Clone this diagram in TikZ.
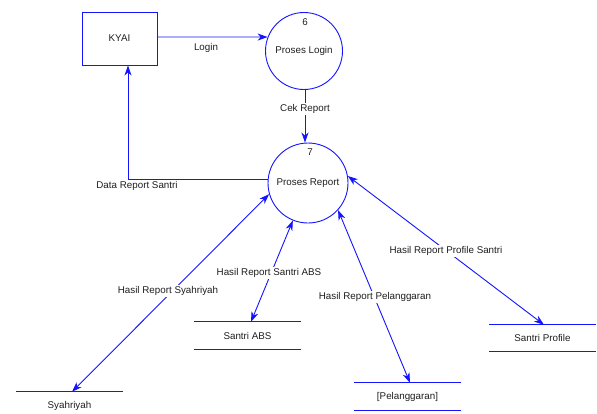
\documentclass[tikz,border=0pt]{standalone}
\usepackage{fontspec}
\setmainfont{Liberation Sans}
\usetikzlibrary{arrows.meta}
\definecolor{dfdblue}{RGB}{20,20,255}
\definecolor{dfdtext}{RGB}{30,30,30}
\tikzset{
  flow/.style={draw=dfdblue, line width=0.9pt},
  tip/.style={-{Stealth[length=10pt,width=7pt,inset=3pt]}},
  bitip/.style={{Stealth[length=10pt,width=7pt,inset=3pt]}-{Stealth[length=10pt,width=7pt,inset=3pt]}},
  txt/.style={text=dfdtext, font=\fontsize{9.8}{11}\selectfont, inner sep=1pt},
  lbl/.style={txt, fill=white},
  entity/.style={draw=dfdblue, line width=0.9pt, minimum width=75pt, minimum height=53pt, inner sep=0pt, txt},
  proc/.style={draw=dfdblue, line width=0.9pt, circle, inner sep=0pt, txt},
  store/.style={txt, minimum width=106pt, inner sep=0pt,
    append after command={\pgfextra{\let\tmpn\tikzlastnode}
      (\tmpn.north west) edge[flow] (\tmpn.north east)
      (\tmpn.south west) edge[flow] (\tmpn.south east)}},
  storetop/.style={txt, minimum width=106pt, inner sep=0pt,
    append after command={\pgfextra{\let\tmpn\tikzlastnode}
      (\tmpn.north west) edge[flow] (\tmpn.north east)}},
}
\begin{document}
\begin{tikzpicture}[x=1pt,y=-1pt]
\useasboundingbox (0,0) rectangle (597,413);
% entities and processes
\node[entity] (kyai) at (119.5,38.5) {KYAI};
\node[proc, minimum size=77pt] (c6) at (304,51) {Proses Login};
\node[txt] (n6) at (305,22) {6};
\node[proc, minimum size=80pt] (c7) at (308,183) {Proses Report};
\node[txt] (n7) at (310,152) {7};
% stores
\node[store, minimum height=27pt] (abs) at (247.5,335.5) {Santri ABS};
\node[store, minimum height=27pt] (pel) at (407.5,396.5) {[Pelanggaran]};
\node[store, minimum height=26pt] (prof) at (542.5,338) {Santri Profile};
\node[storetop, minimum height=28pt] (syah) at (69.5,406) {Syahriyah};
% connectors
\draw[flow, tip] (kyai.east |- 0,37) coordinate (lo) -- (c6.159);
\draw[flow, tip] (c6.south -| 305,0) coordinate (ck) -- (ck |- c7.north);
\draw[flow, tip] (c7.175) -| ([xshift=8.5pt]kyai.south);
\draw[flow, bitip] (c7.196) -- ([xshift=2.5pt]syah.north);
\draw[flow, bitip] (c7.248) -- ([xshift=3.5pt]abs.north);
\draw[flow, bitip] (c7.318) -- ([xshift=2.5pt]pel.north);
\draw[flow, bitip] (c7.10) -- ([xshift=1.5pt]prof.north);
% labels
\node[txt] (llogin) at (206,48) {Login};
\node[lbl] (lcek) at (305,109) {Cek Report};
\node[txt] (ldata) at (137,186) {Data Report Santri};
\node[lbl] (lsyah) at (168,291) {Hasil Report Syahriyah};
\node[lbl] (labs) at (269,273) {Hasil Report Santri ABS};
\node[lbl] (lpel) at (375,297) {Hasil Report Pelanggaran};
\node[lbl] (lprof) at (446,251) {Hasil Report Profile Santri};
\end{tikzpicture}
\end{document}
